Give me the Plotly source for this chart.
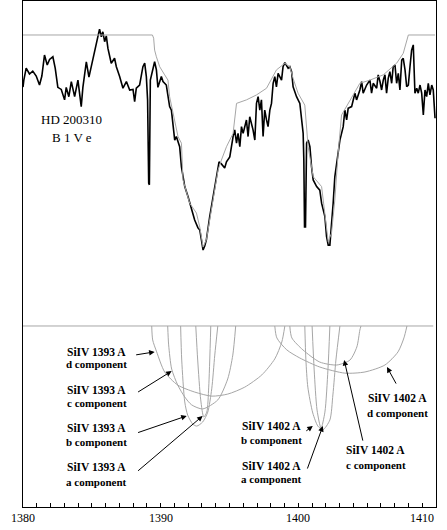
import plotly.graph_objects as go

# ---------------- data ----------------
# observed spectrum (wavelength in Angstrom, normalized flux)
obs_wl = [1380.00, 1380.06, 1380.23, 1380.47, 1380.71, 1380.96, 1381.20, 1381.37, 1381.56, 1381.76,
          1381.93, 1382.17, 1382.34, 1382.53, 1382.78, 1383.02, 1383.14, 1383.33, 1383.51, 1383.75,
          1383.99, 1384.23, 1384.35, 1384.60, 1384.79, 1384.96, 1385.20, 1385.44, 1385.56, 1385.69,
          1385.80, 1385.93, 1386.05, 1386.17, 1386.41, 1386.65, 1386.78, 1387.02, 1387.26, 1387.51,
          1387.75, 1387.99, 1388.11, 1388.23, 1388.47, 1388.71, 1388.84, 1388.96, 1389.05, 1389.13,
          1389.18, 1389.25, 1389.44, 1389.56, 1389.69, 1389.80, 1390.05, 1390.17, 1390.41, 1390.53,
          1390.65, 1390.78, 1391.02, 1391.14, 1391.38, 1391.51, 1391.75, 1391.99, 1392.23, 1392.47,
          1392.71, 1392.84, 1392.96, 1393.08, 1393.20, 1393.32, 1393.56, 1393.80, 1394.05, 1394.24,
          1394.41, 1394.65, 1394.78, 1395.02, 1395.26, 1395.38, 1395.51, 1395.62, 1395.75, 1395.87,
          1395.99, 1396.23, 1396.35, 1396.47, 1396.71, 1396.84, 1396.96, 1397.08, 1397.20, 1397.32,
          1397.44, 1397.56, 1397.69, 1397.80, 1397.93, 1398.05, 1398.17, 1398.29, 1398.41, 1398.53,
          1398.78, 1398.89, 1399.02, 1399.14, 1399.26, 1399.38, 1399.51, 1399.62, 1399.87, 1400.11,
          1400.23, 1400.35, 1400.40, 1400.45, 1400.52, 1400.60, 1400.71, 1400.84, 1400.96, 1401.08,
          1401.33, 1401.56, 1401.69, 1401.93, 1402.05, 1402.17, 1402.29, 1402.41, 1402.53, 1402.65,
          1402.78, 1403.02, 1403.26, 1403.38, 1403.51, 1403.62, 1403.87, 1403.99, 1404.11, 1404.23,
          1404.47, 1404.60, 1404.71, 1404.96, 1405.20, 1405.32, 1405.44, 1405.69, 1405.80, 1405.93,
          1406.05, 1406.17, 1406.29, 1406.41, 1406.53, 1406.65, 1406.78, 1406.89, 1407.02, 1407.14,
          1407.26, 1407.38, 1407.51, 1407.62, 1407.75, 1407.87, 1407.99, 1408.11, 1408.23, 1408.35,
          1408.47, 1408.60, 1408.71, 1408.84, 1408.96, 1409.08, 1409.20, 1409.32, 1409.44, 1409.56,
          1409.69, 1409.80, 1409.93]
obs_flux = [0.821, 0.845, 0.886, 0.866, 0.876, 0.859, 0.828, 0.859, 0.931, 0.897,
            0.916, 0.925, 0.886, 0.820, 0.813, 0.777, 0.820, 0.788, 0.840, 0.788,
            0.845, 0.754, 0.820, 0.908, 0.855, 0.891, 0.937, 0.983, 1.020, 0.994,
            1.011, 0.977, 0.997, 0.954, 0.903, 0.920, 0.891, 0.857, 0.817, 0.840,
            0.811, 0.813, 0.771, 0.817, 0.828, 0.891, 0.903, 0.857, 0.777, 0.491,
            0.485, 0.845, 0.891, 0.908, 0.880, 0.820, 0.857, 0.840, 0.828, 0.788,
            0.754, 0.742, 0.639, 0.651, 0.616, 0.547, 0.479, 0.444, 0.405, 0.364,
            0.337, 0.330, 0.296, 0.261, 0.275, 0.296, 0.375, 0.443, 0.512, 0.564,
            0.557, 0.543, 0.564, 0.581, 0.651, 0.674, 0.628, 0.662, 0.616, 0.685,
            0.662, 0.708, 0.651, 0.719, 0.674, 0.639, 0.765, 0.788, 0.742, 0.777,
            0.651, 0.742, 0.708, 0.685, 0.742, 0.765, 0.834, 0.857, 0.822, 0.868,
            0.845, 0.891, 0.905, 0.897, 0.886, 0.891, 0.874, 0.822, 0.788, 0.765,
            0.708, 0.662, 0.570, 0.340, 0.340, 0.628, 0.639, 0.616, 0.547, 0.502,
            0.479, 0.467, 0.422, 0.376, 0.307, 0.278, 0.278, 0.341, 0.422, 0.513,
            0.559, 0.639, 0.685, 0.742, 0.708, 0.748, 0.754, 0.777, 0.800, 0.777,
            0.811, 0.840, 0.800, 0.828, 0.845, 0.800, 0.834, 0.817, 0.863, 0.840,
            0.811, 0.845, 0.863, 0.800, 0.851, 0.874, 0.834, 0.891, 0.897, 0.834,
            0.868, 0.811, 0.914, 0.920, 0.880, 0.822, 0.828, 0.891, 0.948, 0.966,
            0.800, 0.817, 0.800, 0.828, 0.800, 0.725, 0.811, 0.788, 0.834, 0.794,
            0.828, 0.811, 0.714]

# model fit (sum of components)
fit_wl = [1380.00, 1389.40, 1389.49, 1389.56, 1389.69, 1389.93, 1390.29, 1390.53, 1390.65, 1390.89,
          1391.14, 1391.26, 1391.51, 1391.62, 1392.11, 1392.60, 1392.84, 1392.96, 1393.08, 1393.32,
          1393.80, 1394.17, 1394.41, 1394.78, 1395.26, 1395.51, 1396.23, 1396.96, 1397.69, 1398.29,
          1398.41, 1399.02, 1399.38, 1399.62, 1399.98, 1400.47, 1400.60, 1400.71, 1400.96, 1401.08,
          1401.69, 1401.80, 1402.05, 1402.17, 1402.41, 1402.65, 1402.89, 1403.14, 1404.47, 1405.20,
          1406.17, 1407.14, 1407.62, 1407.99, 1409.93]
fit_flux = [1.000, 1.000, 0.989, 0.948, 0.925, 0.891, 0.863, 0.845, 0.788, 0.731,
            0.679, 0.651, 0.628, 0.502, 0.422, 0.388, 0.340, 0.302, 0.271, 0.296,
            0.433, 0.536, 0.570, 0.616, 0.662, 0.765, 0.777, 0.794, 0.817, 0.868,
            0.880, 0.903, 0.891, 0.851, 0.800, 0.759, 0.685, 0.616, 0.547, 0.513,
            0.479, 0.433, 0.341, 0.290, 0.319, 0.433, 0.593, 0.725, 0.834, 0.845,
            0.863, 0.903, 0.937, 1.000, 1.000]

# individual absorption components (plotted below the zero level)
comp_1393d_wl = [1389.35, 1389.42, 1389.71, 1390.29, 1391.24, 1392.47, 1393.71, 1394.87, 1396.11, 1397.35, 1398.29, 1398.80, 1399.02]
comp_1393d_y = [0.0, -0.048, -0.089, -0.158, -0.203, -0.227, -0.241, -0.234, -0.210, -0.168, -0.113, -0.055, 0.0]
comp_1393c_wl = [1390.51, 1390.58, 1390.80, 1391.24, 1391.75, 1392.25, 1393.05, 1394.15, 1394.87, 1395.24, 1395.45]
comp_1393c_y = [0.0, -0.065, -0.148, -0.203, -0.244, -0.271, -0.285, -0.254, -0.182, -0.100, 0.0]
comp_1393b_wl = [1391.45, 1391.53, 1391.75, 1391.96, 1392.33, 1392.62, 1393.05, 1393.42, 1393.71, 1393.93, 1394.15]
comp_1393b_y = [0.0, -0.117, -0.261, -0.306, -0.337, -0.344, -0.330, -0.296, -0.216, -0.100, 0.0]
comp_1393a_wl = [1392.55, 1392.69, 1392.91, 1393.13, 1393.35, 1393.49, 1393.64]
comp_1393a_y = [0.0, -0.117, -0.254, -0.313, -0.296, -0.210, 0.0]
comp_1402d_wl = [1398.29, 1398.44, 1399.16, 1400.11, 1401.56, 1403.38, 1404.84, 1406.29, 1407.24, 1407.67, 1407.89]
comp_1402d_y = [0.0, -0.041, -0.082, -0.110, -0.141, -0.162, -0.158, -0.134, -0.089, -0.041, 0.0]
comp_1402c_wl = [1399.38, 1399.53, 1400.33, 1401.56, 1402.80, 1403.75, 1404.25, 1404.47, 1404.55]
comp_1402c_y = [0.0, -0.041, -0.082, -0.124, -0.134, -0.117, -0.072, -0.014, 0.0]
comp_1402b_wl = [1400.47, 1400.55, 1400.69, 1401.05, 1401.42, 1401.78, 1402.29, 1402.51, 1402.73, 1403.02]
comp_1402b_y = [0.0, -0.117, -0.210, -0.299, -0.344, -0.357, -0.323, -0.237, -0.117, 0.0]
comp_1402a_wl = [1401.00, 1401.15, 1401.36, 1401.65, 1401.93, 1402.15, 1402.29]
comp_1402a_y = [0.0, -0.151, -0.289, -0.351, -0.296, -0.151, 0.0]

tick_vals = [1380, 1390, 1400, 1410]
tick_labels = ["1380", "1390", "1400", "1410"]

# labels: (line1, line2, x, y1, y2, arrow tail x, tail y, head x, head y)
comp_labels = [
    ("SiIV 1393 A", "d component", 1385.35, -0.089, -0.132, 1388.11, -0.100, 1389.56, -0.089),
    ("SiIV 1393 A", "c component", 1385.35, -0.220, -0.265, 1388.25, -0.230, 1390.80, -0.155),
    ("SiIV 1393 A", "b component", 1385.35, -0.351, -0.399, 1388.25, -0.368, 1391.89, -0.309),
    ("SiIV 1393 A", "a component", 1385.35, -0.485, -0.536, 1388.25, -0.502, 1393.05, -0.309),
    ("SiIV 1402 A", "b component", 1398.07, -0.345, -0.392, 1400.47, -0.364, 1401.05, -0.344),
    ("SiIV 1402 A", "a component", 1398.07, -0.481, -0.527, 1400.62, -0.495, 1401.78, -0.344),
    ("SiIV 1402 A", "c component", 1405.64, -0.426, -0.478, 1404.71, -0.399, 1403.33, -0.117),
    ("SiIV 1402 A", "d component", 1407.17, -0.247, -0.299, 1407.16, -0.203, 1406.44, -0.141),
]

star_name = "HD 200310"
star_type = "B 1 V e"

# ---------------- figure ----------------
GRAY = "#a6a6a6"
FONT = "Liberation Serif"

fig = go.Figure()

components = [
    (comp_1393d_wl, comp_1393d_y), (comp_1393c_wl, comp_1393c_y),
    (comp_1393b_wl, comp_1393b_y), (comp_1393a_wl, comp_1393a_y),
    (comp_1402d_wl, comp_1402d_y), (comp_1402c_wl, comp_1402c_y),
    (comp_1402b_wl, comp_1402b_y), (comp_1402a_wl, comp_1402a_y),
]
for wl, yy in components:
    fig.add_trace(go.Scatter(x=wl, y=yy, mode="lines",
                             line=dict(color=GRAY, width=1, shape="spline", smoothing=0.7),
                             hoverinfo="skip", showlegend=False))

fig.add_trace(go.Scatter(x=obs_wl, y=obs_flux, mode="lines",
                         line=dict(color="black", width=1.6), showlegend=False))
fig.add_trace(go.Scatter(x=fit_wl, y=fit_flux, mode="lines",
                         line=dict(color=GRAY, width=1), showlegend=False))

# zero level of the components
fig.add_shape(type="line", x0=1380, x1=1409.8, y0=0, y1=0, xref="x", yref="y",
              line=dict(color=GRAY, width=1))

annotations = []
annotations.append(dict(x=1383.53, y=0.708, text=star_name, showarrow=False, xref="x", yref="y",
                        font=dict(family=FONT, size=13, color="black")))
annotations.append(dict(x=1383.53, y=0.649, text=star_type, showarrow=False, xref="x", yref="y",
                        font=dict(family=FONT, size=13, color="black")))

for l1, l2, xx, y1, y2, tx, ty, hx, hy in comp_labels:
    annotations.append(dict(x=xx, y=y1, text="<b>%s</b>" % l1, showarrow=False, xref="x", yref="y",
                            font=dict(family=FONT, size=11.5, color="black")))
    annotations.append(dict(x=xx, y=y2, text="<b>%s</b>" % l2, showarrow=False, xref="x", yref="y",
                            font=dict(family=FONT, size=11, color="black")))
    annotations.append(dict(x=hx, y=hy, ax=tx, ay=ty, axref="x", ayref="y", xref="x", yref="y",
                            text="", showarrow=True, arrowhead=2, arrowsize=1.1, arrowwidth=1,
                            arrowcolor="black", standoff=0, startstandoff=0))

for v, t in zip(tick_vals, tick_labels):
    annotations.append(dict(x=v, y=-0.004, xref="x", yref="paper", text=t, showarrow=False,
                            xanchor="right" if v == tick_vals[-1] else "center", yanchor="top",
                            font=dict(family=FONT, size=12, color="black")))

fig.update_layout(
    width=447, height=530,
    margin=dict(l=23, r=11, t=1, b=23),
    paper_bgcolor="white", plot_bgcolor="white",
    showlegend=False,
    annotations=annotations,
    font=dict(family=FONT, color="black"),
)
fig.update_xaxes(range=[1380, 1410], showgrid=False, zeroline=False,
                 showline=True, linecolor="black", linewidth=1, mirror=True,
                 ticks="inside", tick0=1380, dtick=1, ticklen=4, tickcolor="black",
                 showticklabels=False)
fig.update_yaxes(range=[-0.622, 1.1168], showgrid=False, zeroline=False,
                 showline=True, linecolor="black", linewidth=1, mirror=True,
                 ticks="", showticklabels=False)

fig.write_html("out.html", config={"displayModeBar": False},
               post_script="document.body.style.margin='0';document.body.style.overflow='hidden';")
